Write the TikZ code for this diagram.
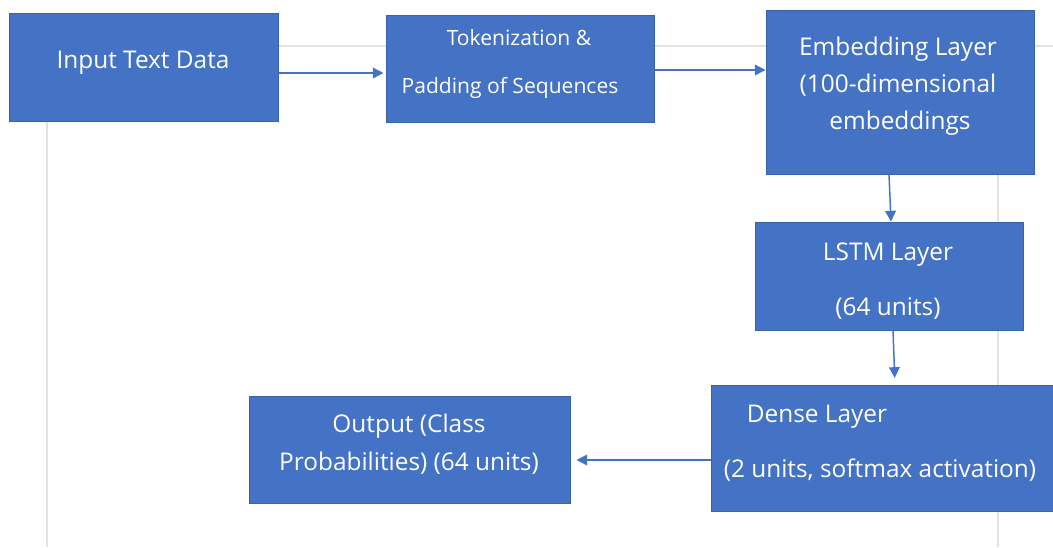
\documentclass[tikz,border=0pt]{standalone}
\usepackage{fontspec}
\setmainfont{Open Sans}
\usetikzlibrary{arrows.meta}
\definecolor{boxblue}{HTML}{4472C4}
\definecolor{boxedge}{HTML}{3A62AA}
\definecolor{gridgray}{HTML}{E2E2E2}
\begin{document}
\begin{tikzpicture}[x=0.75pt,y=-0.75pt,
  box/.style={draw=boxedge, fill=boxblue, line width=0.75pt, inner sep=0pt, rectangle},
  lbl/.style={text=white, font=\fontsize{18.3}{21}\selectfont, anchor=base, inner sep=0pt},
  small/.style={lbl, font=\fontsize{15.8}{18}\selectfont},
  arr/.style={draw=boxblue, line width=1.1pt, -{Triangle[length=8pt,width=8pt]}},
  margin/.style={draw=gridgray, line width=0.9pt}]
\useasboundingbox (0,0) rectangle (1053,547);
\fill[white] (0,0) rectangle (1053,547);
% page margin guides
\draw[margin] (47,46) -- (1053,46);
\draw[margin] (47,46) -- (47,547);
\draw[margin] (998,46) -- (998,547);
% boxes
\node[box, minimum width=201.75pt, minimum height=81pt] (in) at (143.5,67) {};
\node[box, minimum width=201pt, minimum height=80.25pt] (tok) at (520,68.5) {};
\node[box, minimum width=201pt, minimum height=123pt] (emb) at (900,92) {};
\node[box, minimum width=201pt, minimum height=81pt] (lstm) at (889,276) {};
\node[box, minimum width=257.25pt, minimum height=94.5pt] (dense) at (882.5,448) {};
\node[box, minimum width=240.75pt, minimum height=80.25pt] (out) at (409.5,449.5) {};
% labels
\node[lbl] (in1) at (143,68) {Input Text Data};
\node[small] (tok1) at (519,45) {Tokenization \&};
\node[small] (tok2) at (510,93) {Padding of Sequences};
\node[lbl] (emb1) at (898,55) {Embedding Layer};
\node[lbl] (emb2) at (898,92) {(100-dimensional};
\node[lbl] (emb3) at (900,129) {embeddings};
\node[lbl] (lstm1) at (888,260) {LSTM Layer};
\node[lbl] (lstm2) at (888,315) {(64 units)};
\node[lbl] (dense1) at (817,422) {Dense Layer};
\node[lbl] (dense2) at (880,477) {(2 units, softmax activation)};
\node[lbl] (out1) at (409,432) {Output (Class};
\node[lbl] (out2) at (409,470) {Probabilities) (64 units)};
% connectors
\draw[arr, shorten >=1.5pt] (in.east |- 0,73) -- (tok.west |- 0,73);
\draw[arr] (tok.east |- 0,70) -- (emb.west |- 0,70);
\draw[arr] (emb.south -| 889,0) -- (lstm.north -| 891,0);
\draw[arr, shorten >=5pt] (lstm.south -| 893,0) -- (dense.north -| 895,0);
\draw[arr, shorten >=4.5pt] (dense.west |- 0,460) -- (out.east |- 0,460);
\end{tikzpicture}
\end{document}
